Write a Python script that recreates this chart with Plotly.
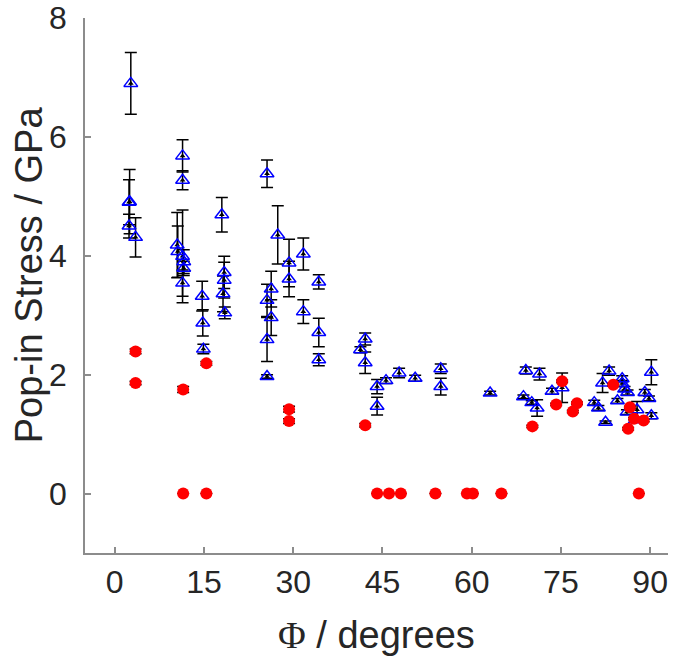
import plotly.graph_objects as go

# Blue triangles: angle (deg), pop-in stress (GPa), error (GPa)
tri_x = [2.7, 2.5, 2.4, 2.4, 3.5,
         11.4, 11.4, 10.5, 10.6, 11.4, 11.6, 11.6, 11.4,
         14.7, 14.8, 14.9,
         18.0, 18.4, 18.4, 18.2, 18.5,
         25.6, 27.4, 29.3, 29.3, 31.7, 31.7, 34.3, 34.3, 34.3,
         26.3, 25.6, 26.3, 25.6, 25.6,
         42.1, 41.3, 42.1, 44.1, 44.1, 45.6, 47.8, 50.5, 54.8, 54.8,
         63.1, 69.1, 68.7, 70.1, 71.0, 71.4, 73.5, 75.2,
         80.6, 81.3, 82.0, 83.1, 82.5, 84.5, 85.3, 85.3, 85.7, 86.2, 86.1,
         87.8, 89.1, 89.8, 90.2, 90.2, 87.5]
tri_y = [6.90, 4.91, 4.90, 4.50, 4.31,
         5.68, 5.27, 4.18, 4.07, 3.99, 3.90, 3.79, 3.54,
         3.32, 2.87, 2.43,
         4.69, 3.72, 3.59, 3.36, 3.04,
         5.38, 4.35, 3.88, 3.61, 4.03, 3.06, 3.56, 2.71, 2.25,
         3.44, 3.25, 2.96, 2.59, 1.97,
         2.60, 2.42, 2.20, 1.80, 1.47, 1.90, 2.03, 1.94, 2.10, 1.80,
         1.69, 2.07, 1.63, 1.53, 1.44, 2.01, 1.72, 1.78,
         1.53, 1.44, 1.86, 2.06, 1.20, 1.56, 1.93, 1.85, 1.76, 1.70, 1.37,
         1.41, 1.70, 1.60, 2.04, 1.31, 1.24]
tri_err = [0.52, 0.54, 0.38, 0.20, 0.33,
           0.27, 0.16, 0.55, 0.43, 0.78, 0.20, 0.12, 0.22,
           0.25, 0.22, 0.08,
           0.29, 0.27, 0.30, 0.30, 0.10,
           0.23, 0.49, 0.40, 0.30, 0.27, 0.20, 0.12, 0.24, 0.10,
           0.30, 0.27, 0.30, 0.37, 0.03,
           0.10, 0.05, 0.18, 0.12, 0.15, 0.05, 0.08, 0.05, 0.08, 0.14,
           0.03, 0.06, 0.03, 0.03, 0.14, 0.10, 0.05, 0.25,
           0.04, 0.04, 0.16, 0.07, 0.02, 0.04, 0.05, 0.05, 0.04, 0.04, 0.04,
           0.14, 0.05, 0.04, 0.21, 0.05, 0.04]

# Red circles
red_x = [3.5, 3.5, 11.5, 15.4, 29.3, 29.3, 42.1, 70.2, 75.2, 74.2, 77.0, 77.7,
         83.8, 86.6, 87.3, 86.3, 88.9,
         11.5, 15.4, 44.1, 46.1, 48.1, 53.9, 59.2, 60.2, 65.0, 88.1]
red_y = [2.39, 1.86, 1.75, 2.19, 1.42, 1.22, 1.15, 1.13, 1.89, 1.50, 1.38, 1.52,
         1.83, 1.45, 1.26, 1.09, 1.23,
         0, 0, 0, 0, 0, 0, 0, 0, 0, 0]
red_err = [0.04, 0.03, 0.05, 0.03, 0.05, 0.04, 0.03, 0.02, 0.02, 0.02, 0.02, 0.02,
           0.02, 0.02, 0.02, 0.02, 0.02,
           0, 0, 0, 0, 0, 0, 0, 0, 0, 0]

x_ticks = [0, 15, 30, 45, 60, 75, 90]
y_ticks = [0, 2, 4, 6, 8]

FONT = "Liberation Sans, Arial, sans-serif"
AX = "#8c8c8c"
TXT = "#262626"

fig = go.Figure()
# error bars + black centre dots
fig.add_trace(go.Scatter(
    x=tri_x, y=tri_y, mode="markers",
    marker=dict(symbol="triangle-up", size=5, color="black"),
    error_y=dict(type="data", array=tri_err, visible=True,
                 color="black", thickness=1.5, width=6),
    showlegend=False, hoverinfo="skip"))
fig.add_trace(go.Scatter(
    x=tri_x, y=tri_y, mode="markers",
    marker=dict(symbol="triangle-up-open", size=12, color="#0000ff",
                line=dict(width=1.5, color="#0000ff")),
    showlegend=False))
fig.add_trace(go.Scatter(
    x=red_x, y=red_y, mode="markers",
    marker=dict(symbol="circle", size=12, color="#ff0000",
                line=dict(width=0)),
    error_y=dict(type="data", array=red_err, visible=True,
                 color="black", thickness=1.5, width=6),
    showlegend=False))

fig.update_layout(
    width=676, height=660,
    margin=dict(l=85, r=8, t=18, b=107),
    paper_bgcolor="white", plot_bgcolor="white",
    font=dict(family=FONT, color=TXT, size=32),
    xaxis=dict(range=[-5, 93], tickvals=x_ticks, ticktext=[str(v) for v in x_ticks],
               showgrid=False, zeroline=False, showline=True, linecolor=AX,
               linewidth=1.5, ticks="inside", ticklen=6, tickcolor=AX, tickwidth=1.5,
               tickfont=dict(size=32, color=TXT, family=FONT),
               ticklabelstandoff=0, automargin=False),
    yaxis=dict(range=[-1, 8], tickvals=y_ticks, ticktext=[str(v) for v in y_ticks],
               showgrid=False, zeroline=False, showline=True, linecolor=AX,
               linewidth=1.5, ticks="inside", ticklen=6, tickcolor=AX, tickwidth=1.5,
               tickfont=dict(size=32, color=TXT, family=FONT),
               ticklabelstandoff=10, automargin=False),
    annotations=[
        dict(text="<span style=\"font-family:'Liberation Serif'\">Φ</span> / degrees",
             xref="paper", yref="paper", x=0.5, y=-0.153, xanchor="center",
             yanchor="middle", showarrow=False,
             font=dict(size=38, color=TXT, family=FONT)),
        dict(text="Pop-in Stress / GPa", xref="paper", yref="paper",
             x=-0.097, y=0.52, xanchor="center", yanchor="middle", textangle=-90,
             showarrow=False, font=dict(size=38, color=TXT, family=FONT)),
    ],
)

fig.write_html("out.html")
